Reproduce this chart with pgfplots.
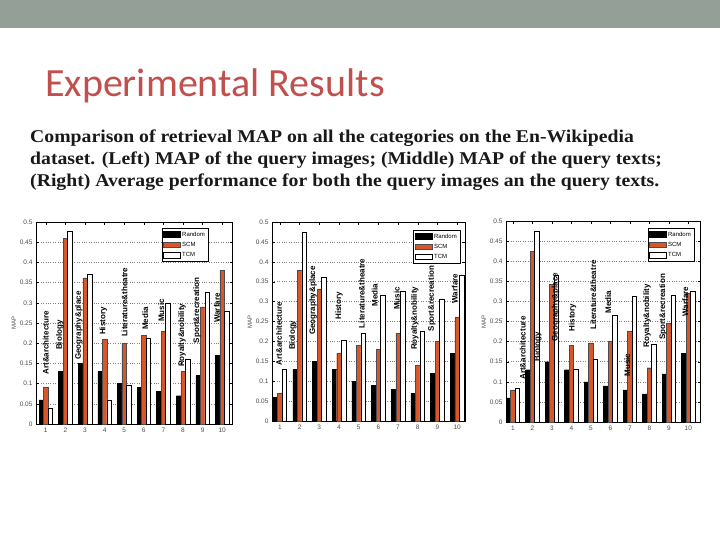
\documentclass[border=0pt]{standalone}
\usepackage{fontspec}
\setmainfont{Liberation Sans}
\newfontfamily\titlefont{Carlito}
\newfontfamily\capfont{Liberation Serif}
\usepackage{pgfplots}
\usepackage{pgfplotstable}
\pgfplotsset{compat=1.18}

\definecolor{scmred}{HTML}{D8572A}
\definecolor{titlered}{HTML}{C0504D}
\definecolor{topbar}{HTML}{939F97}

% MAP per category: Random, SCM, TCM
\pgfplotstableread{
x rnd scm tcm
1 0.06 0.09 0.04
2 0.13 0.46 0.477
3 0.15 0.362 0.37
4 0.13 0.21 0.06
5 0.10 0.20 0.095
6 0.09 0.22 0.212
7 0.08 0.23 0.30
8 0.07 0.13 0.16
9 0.12 0.29 0.327
10 0.17 0.38 0.28
}\imgdata

\pgfplotstableread{
x rnd scm tcm
1 0.06 0.07 0.13
2 0.13 0.38 0.475
3 0.15 0.33 0.362
4 0.13 0.17 0.202
5 0.10 0.19 0.22
6 0.09 0.18 0.315
7 0.08 0.22 0.327
8 0.07 0.14 0.225
9 0.12 0.20 0.305
10 0.17 0.26 0.367
}\txtdata

\pgfplotstableread{
x rnd scm tcm
1 0.06 0.08 0.085
2 0.13 0.425 0.475
3 0.15 0.343 0.365
4 0.13 0.19 0.131
5 0.10 0.197 0.155
6 0.09 0.20 0.265
7 0.08 0.226 0.313
8 0.07 0.135 0.193
9 0.12 0.245 0.315
10 0.17 0.32 0.325
}\avgdata

\pgfplotsset{
  mapchart/.style={
    scale only axis, anchor=south west,
    ybar=0pt, bar width=4.5pt,
    ymin=0, ymax=0.5,
    ytick={0,0.05,0.1,0.15,0.2,0.25,0.3,0.35,0.4,0.45,0.5},
    yticklabels={0,0.05,0.1,0.15,0.2,0.25,0.3,0.35,0.4,0.45,0.5},
    xtick={1,2,3,4,5,6,7,8,9,10},
    tick align=inside, major tick length=2.5pt,
    tick style={black, line width=0.4pt},
    ymajorgrids, grid style={dotted, black!50, line width=0.5pt},
    axis line style={black, line width=0.5pt},
    tick label style={font=\fontsize{6.5}{7}\selectfont, text=black!70},
    /pgf/number format/assume math mode=true,
    ylabel={MAP}, ylabel style={font=\fontsize{6}{7}\selectfont, text=black!70},
    ylabel shift=-3pt,
    legend style={font=\fontsize{6}{6}\selectfont, draw=black, line width=0.4pt,
      inner xsep=1pt, inner ysep=1.5pt, row sep=0.5pt, cells={anchor=west}},
    legend image code/.code={\draw[##1, line width=0.4pt] (0pt,-2.6pt) rectangle (17pt,3pt);},
    clip=false,
  },
}
\tikzset{catlab/.style={rotate=90, anchor=west, inner sep=0pt, font=\bfseries\fontsize{8}{8}\selectfont}}

\begin{document}
\begin{tikzpicture}
\fill[white] (0pt,0pt) rectangle (720pt,-540pt);
\fill[topbar] (0pt,0pt) rectangle (720pt,-28pt);
\node[anchor=base west, inner sep=0pt, text=titlered, font=\titlefont\fontsize{40}{44}\selectfont]
  at (45pt,-97pt) {Experimental Results};
\begin{scope}[every node/.style={anchor=base west, inner sep=0pt, xscale=1.095, font=\capfont\bfseries\fontsize{18}{21}\selectfont, text=black!90}]
\node at (30pt,-143pt) {Comparison of retrieval MAP on all the categories on the En-Wikipedia};
\node at (30pt,-165pt) {dataset. (Left) MAP of the query images; (Middle) MAP of the query texts;};
\node at (30pt,-187pt) {(Right) Average performance for both the query images an the query texts.};
\end{scope}

% Left: query images
\begin{axis}[mapchart, at={(36pt,-424pt)}, width=196pt, height=202pt,
    xmin=0.5, xmax=10.5,
    legend style={at={(0.878,0.97)}, anchor=north east}]
\addplot[fill=black, draw=black] table[x=x, y=rnd] {\imgdata};
\addlegendentry{Random}
\addplot[fill=scmred, draw=black!70] table[x=x, y=scm] {\imgdata};
\addlegendentry{SCM}
\addplot[fill=white, draw=black] table[x=x, y=tcm] {\imgdata};
\addlegendentry{TCM}
\node[catlab] at (axis cs:1.00,0.122) {Art\&architecture};
\node[catlab] at (axis cs:1.71,0.183) {Biology};
\node[catlab] at (axis cs:2.68,0.158) {Geography\&place};
\node[catlab] at (axis cs:3.94,0.220) {History};
\node[catlab] at (axis cs:5.01,0.215) {Literature\&theatre};
\node[catlab] at (axis cs:6.08,0.233) {Media};
\node[catlab] at (axis cs:6.89,0.252) {Music};
\node[catlab] at (axis cs:7.95,0.141) {Royalty\&nobility};
\node[catlab] at (axis cs:8.72,0.200) {Sport\&recreation};
\node[catlab] at (axis cs:9.73,0.250) {Warfare};
\end{axis}

% Middle: query texts
\begin{axis}[mapchart, at={(272pt,-421pt)}, width=193pt, height=199pt,
    xmin=0.6, xmax=10.4,
    legend style={at={(0.974,0.96)}, anchor=north east}]
\addplot[fill=black, draw=black] table[x=x, y=rnd] {\txtdata};
\addlegendentry{Random}
\addplot[fill=scmred, draw=black!70] table[x=x, y=scm] {\txtdata};
\addlegendentry{SCM}
\addplot[fill=white, draw=black] table[x=x, y=tcm] {\txtdata};
\addlegendentry{TCM}
\node[catlab] at (axis cs:0.95,0.140) {Art\&architecture};
\node[catlab] at (axis cs:1.66,0.178) {Biology};
\node[catlab] at (axis cs:2.68,0.216) {Geography\&place};
\node[catlab] at (axis cs:4.00,0.254) {History};
\node[catlab] at (axis cs:5.16,0.233) {Literature\&theatre};
\node[catlab] at (axis cs:5.82,0.287) {Media};
\node[catlab] at (axis cs:6.94,0.279) {Music};
\node[catlab] at (axis cs:7.85,0.178) {Royalty\&nobility};
\node[catlab] at (axis cs:8.72,0.225) {Sport\&recreation};
\node[catlab] at (axis cs:9.88,0.295) {Warfare};
\end{axis}

% Right: average of both
\begin{axis}[mapchart, at={(506pt,-422pt)}, width=194pt, height=201pt,
    xmin=0.65, xmax=10.6,
    legend style={at={(0.969,0.965)}, anchor=north east}]
\addplot[fill=black, draw=black] table[x=x, y=rnd] {\avgdata};
\addlegendentry{Random}
\addplot[fill=scmred, draw=black!70] table[x=x, y=scm] {\avgdata};
\addlegendentry{SCM}
\addplot[fill=white, draw=black] table[x=x, y=tcm] {\avgdata};
\addlegendentry{TCM}
\node[catlab] at (axis cs:1.51,0.105) {Art\&architecture};
\node[catlab] at (axis cs:2.28,0.150) {Biology};
\node[catlab] at (axis cs:3.19,0.200) {Geography\&place};
\node[catlab] at (axis cs:4.06,0.225) {History};
\node[catlab] at (axis cs:5.13,0.229) {Literature\&theatre};
\node[catlab] at (axis cs:5.90,0.270) {Media};
\node[catlab] at (axis cs:6.87,0.113) {Music};
\node[catlab] at (axis cs:7.89,0.185) {Royalty\&nobility};
\node[catlab] at (axis cs:8.70,0.205) {Sport\&recreation};
\node[catlab] at (axis cs:9.85,0.262) {Warfare};
\end{axis}
\end{tikzpicture}
\end{document}
